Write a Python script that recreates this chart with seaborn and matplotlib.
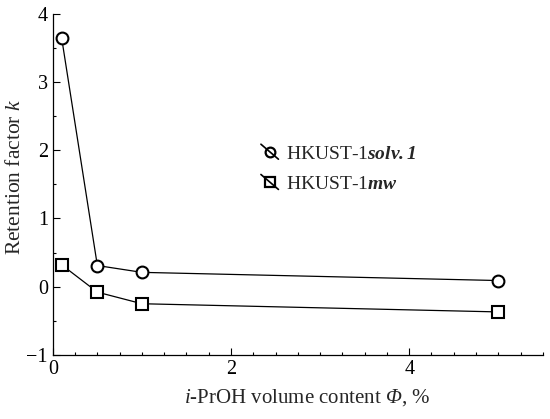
import matplotlib
matplotlib.use("Agg")
import matplotlib.pyplot as plt
from matplotlib.lines import Line2D
from matplotlib.legend_handler import HandlerBase
from matplotlib.ticker import MultipleLocator, FixedLocator
import seaborn as sns
import pandas as pd

phi = [0.1, 0.5, 1.0, 5.0]
k_solv = [3.64, 0.31, 0.21, 0.09]
k_mw = [0.32, -0.08, -0.25, -0.37]
series_names = ["solv", "mw"]
legend_labels = [r"HKUST-1$\mathbfit{solv{.}1}$", r"HKUST-1$\mathbfit{mw}$"]
xticks = [0, 2, 4]
yticks = [-1, 0, 1, 2, 3, 4]

sns.set_style("ticks")
plt.rcParams["font.family"] = ["Liberation Serif", "DejaVu Serif"]
plt.rcParams["mathtext.fontset"] = "custom"
plt.rcParams["mathtext.rm"] = "Liberation Serif:italic"
plt.rcParams["mathtext.it"] = "Liberation Serif:italic"
plt.rcParams["mathtext.bf"] = "Liberation Serif:bold"
plt.rcParams["mathtext.bfit"] = "Liberation Serif:italic:bold"

df = pd.DataFrame({
    "phi": phi * 2,
    "k": k_solv + k_mw,
    "series": [series_names[0]] * len(phi) + [series_names[1]] * len(phi),
})

fig = plt.figure(figsize=(5.5, 4.19), dpi=100)
ax = fig.add_axes([0.096, 0.153, 0.891, 0.814])

sns.lineplot(data=df, x="phi", y="k", style="series", markers={"solv": "o", "mw": "s"},
             dashes=False, color="black", linewidth=0.9, markersize=8.5,
             markerfacecolor="white", markeredgecolor="black", markeredgewidth=1.5,
             ax=ax, legend=False)

ax.set_xlim(0, 5.5)
ax.set_ylim(-1, 4)
ax.xaxis.set_major_locator(FixedLocator(xticks))
ax.xaxis.set_minor_locator(MultipleLocator(0.25))
ax.yaxis.set_major_locator(FixedLocator(yticks))
ax.yaxis.set_minor_locator(MultipleLocator(0.5))
ax.tick_params(which="both", direction="in", width=0.8, labelsize=14.5, colors="black")
ax.tick_params(which="major", length=5)
ax.tick_params(which="minor", length=2.5)
for s in ["top", "right"]:
    ax.spines[s].set_visible(False)
for s in ["left", "bottom"]:
    ax.spines[s].set_linewidth(0.9)
    ax.spines[s].set_color("black")

ax.set_xlabel(r"$i$-PrOH volume content $\Phi$, %", fontsize=15)
ax.xaxis.set_label_coords(0.518, -0.095)
ax.set_ylabel(r"Retention factor $k$", fontsize=15.5)
ax.yaxis.set_label_coords(-0.057, 0.523)


class DiagHandler(HandlerBase):
    def __init__(self, marker):
        super().__init__()
        self.marker = marker

    def create_artists(self, legend, orig_handle, xdescent, ydescent, width, height, fontsize, trans):
        cx = -xdescent + width / 2
        cy = -ydescent + height / 2
        ln = Line2D([cx - width / 2, cx + width / 2], [cy + height * 0.55, cy - height * 0.55],
                    color="black", lw=1.2, transform=trans)
        mk = Line2D([cx], [cy], marker=self.marker, markersize=7, markerfacecolor="none",
                    markeredgecolor="black", markeredgewidth=1.6, linestyle="none", transform=trans)
        return [ln, mk]


h1 = Line2D([], [], color="black")
h2 = Line2D([], [], color="black", marker="s")
leg = ax.legend([h1, h2], legend_labels, loc="upper left", bbox_to_anchor=(0.389, 0.667),
                frameon=False, fontsize=14, handlelength=0.9, handletextpad=0.4,
                labelspacing=0.65,
                handler_map={h1: DiagHandler("o"), h2: DiagHandler("s")})

fig.savefig("out.png", dpi=100)
